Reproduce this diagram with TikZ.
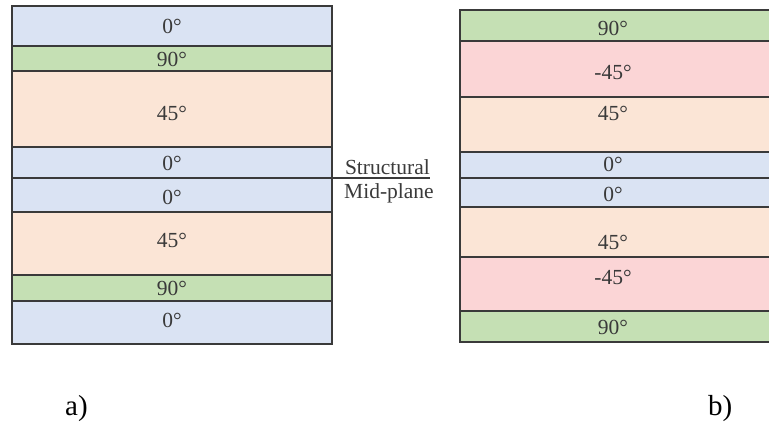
\documentclass[tikz,border=0pt]{standalone}
\usepackage{fontspec}
\setmainfont{Liberation Serif}
\definecolor{zeroply}{HTML}{DAE3F3}
\definecolor{ninetyply}{HTML}{C5E0B4}
\definecolor{fortyply}{HTML}{FBE5D6}
\definecolor{minusply}{HTML}{FBD5D6}
\definecolor{plyline}{HTML}{3A3A3A}
\begin{document}
\begin{tikzpicture}[x=1pt, y=-1pt,
    ply/.style={draw=plyline, line width=1.4pt},
    lbl/.style={font=\fontsize{21.5}{24}\selectfont, text=plyline, inner sep=0pt},
    caption/.style={font=\fontsize{29}{32}\selectfont, inner sep=0pt, anchor=base west}]
    \useasboundingbox (0, 0) rectangle (769, 423);
    \clip (0, 0) rectangle (769, 423);
    % a) symmetric laminate
    \draw [ply, fill=zeroply] (12, 6) rectangle (332, 46);
    \draw [ply, fill=ninetyply] (12, 46) rectangle (332, 71);
    \draw [ply, fill=fortyply] (12, 71) rectangle (332, 147);
    \draw [ply, fill=zeroply] (12, 147) rectangle (332, 178);
    \draw [ply, fill=zeroply] (12, 178) rectangle (332, 212);
    \draw [ply, fill=fortyply] (12, 212) rectangle (332, 275);
    \draw [ply, fill=ninetyply] (12, 275) rectangle (332, 301);
    \draw [ply, fill=zeroply] (12, 301) rectangle (332, 344);
    \node [lbl] (la1) at (172, 26) {0°};
    \node [lbl] (la2) at (172, 59) {90°};
    \node [lbl] (la3) at (172, 113) {45°};
    \node [lbl] (la4) at (172, 163) {0°};
    \node [lbl] (la5) at (172, 197) {0°};
    \node [lbl] (la6) at (172, 240) {45°};
    \node [lbl] (la7) at (172, 288) {90°};
    \node [lbl] (la8) at (172, 320) {0°};
    % b)
    \draw [ply, fill=ninetyply] (460, 10) rectangle (780, 41);
    \draw [ply, fill=minusply] (460, 41) rectangle (780, 97);
    \draw [ply, fill=fortyply] (460, 97) rectangle (780, 152);
    \draw [ply, fill=zeroply] (460, 152) rectangle (780, 178);
    \draw [ply, fill=zeroply] (460, 178) rectangle (780, 207);
    \draw [ply, fill=fortyply] (460, 207) rectangle (780, 257);
    \draw [ply, fill=minusply] (460, 257) rectangle (780, 311);
    \draw [ply, fill=ninetyply] (460, 311) rectangle (780, 342);
    \node [lbl] (lb1) at (613, 28) {90°};
    \node [lbl] (lb2) at (613, 72) {-45°};
    \node [lbl] (lb3) at (613, 113) {45°};
    \node [lbl] (lb4) at (613, 164) {0°};
    \node [lbl] (lb5) at (613, 194) {0°};
    \node [lbl] (lb6) at (613, 242) {45°};
    \node [lbl] (lb7) at (613, 277) {-45°};
    \node [lbl] (lb8) at (613, 327) {90°};
    % mid-plane
    \coordinate (mid) at (332, 178);
    \node [lbl, anchor=south east] (struct) at (430, 175) {Structural};
    \node [lbl, anchor=north west] (midplane) at (344, 183) {Mid-plane};
    \draw [plyline, line width=1.2pt] (mid) -- (mid -| struct.east);
    \node [caption] (capa) at (65, 415) {a)};
    \node [caption] (capb) at (708, 415) {b)};
\end{tikzpicture}
\end{document}
